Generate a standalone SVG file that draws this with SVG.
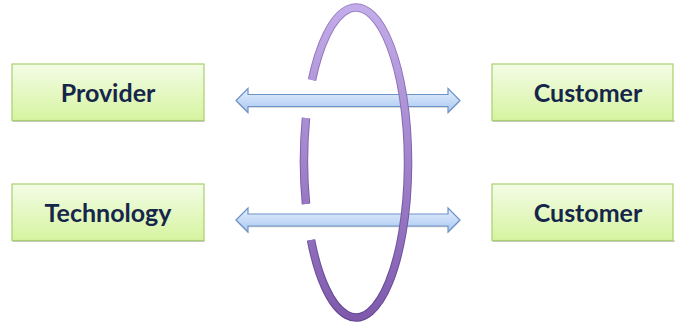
<svg xmlns="http://www.w3.org/2000/svg" width="675" height="322" viewBox="0 0 675 322">
<defs>
<linearGradient id="boxG" x1="0" y1="0" x2="0" y2="1">
<stop offset="0" stop-color="#f3fce6"/>
<stop offset="1" stop-color="#d6f4a0"/>
</linearGradient>
<linearGradient id="arrG" x1="0" y1="0" x2="0" y2="1">
<stop offset="0" stop-color="#e4eefc"/>
<stop offset="1" stop-color="#a9c8f2"/>
</linearGradient>
<linearGradient id="ringG" gradientUnits="userSpaceOnUse" x1="0" y1="8" x2="0" y2="318">
<stop offset="0" stop-color="#c3acea"/>
<stop offset="1" stop-color="#7f5aac"/>
</linearGradient>
<linearGradient id="ringO" gradientUnits="userSpaceOnUse" x1="0" y1="8" x2="0" y2="318">
<stop offset="0" stop-color="#9b82c4"/>
<stop offset="1" stop-color="#5f4190"/>
</linearGradient>
<path id="arrowShape" d="M0,0 L12,-12 L12,-6 L212,-6 L212,-12 L224,0 L212,12 L212,6 L12,6 L12,12 Z"/>
</defs>
<style>
.box{fill:url(#boxG);stroke:#a8d06c;stroke-width:1.2}
.shadow{fill:#9a9a9a;opacity:0.55}
.lbl{font-family:Lato,"Liberation Sans",sans-serif;font-weight:bold;font-size:25px;fill:#15264a;text-anchor:middle}
.arr{fill:url(#arrG);stroke:#6e93c9;stroke-width:1.2}
.arrsh{fill:#9a9a9a;opacity:0.5}
.ringOut{fill:none;stroke:url(#ringO);stroke-width:8.5}
.ringIn{fill:none;stroke:url(#ringG);stroke-width:6.5}
</style>
<g id="connectors">
<use href="#arrowShape" class="arrsh" transform="translate(236,101.8)"/>
<use href="#arrowShape" class="arr" transform="translate(236,100.5)"/>
<use href="#arrowShape" class="arrsh" transform="translate(236,221.3)"/>
<use href="#arrowShape" class="arr" transform="translate(236,220)"/>
</g>
<g id="ring">
<path class="ringOut" d="M312,80 A52,155 0 1 1 311,240"/>
<path class="ringIn" d="M312,80 A52,155 0 1 1 311,240"/>
<path class="ringOut" d="M306,118 A52,155 0 0 0 306,204"/>
<path class="ringIn" d="M306,118 A52,155 0 0 0 306,204"/>
</g>
<g id="provider">
<rect class="shadow" x="12.5" y="120" width="192" height="2"/>
<rect class="box" x="12" y="64" width="192" height="56.5"/>
<text class="lbl" x="108" y="101.5">Provider</text>
</g>
<g id="technology">
<rect class="shadow" x="12.5" y="240" width="192" height="2"/>
<rect class="box" x="12" y="184" width="192" height="56.5"/>
<text class="lbl" x="108" y="221.5">Technology</text>
</g>
<g id="customer1">
<rect class="shadow" x="492.5" y="120" width="182" height="2"/>
<rect class="box" x="492" y="64" width="181" height="56.5"/>
<text class="lbl" x="588" y="101.5">Customer</text>
</g>
<g id="customer2">
<rect class="shadow" x="492.5" y="240" width="182" height="2"/>
<rect class="box" x="492" y="184" width="181" height="56.5"/>
<text class="lbl" x="588" y="221.5">Customer</text>
</g>
</svg>
